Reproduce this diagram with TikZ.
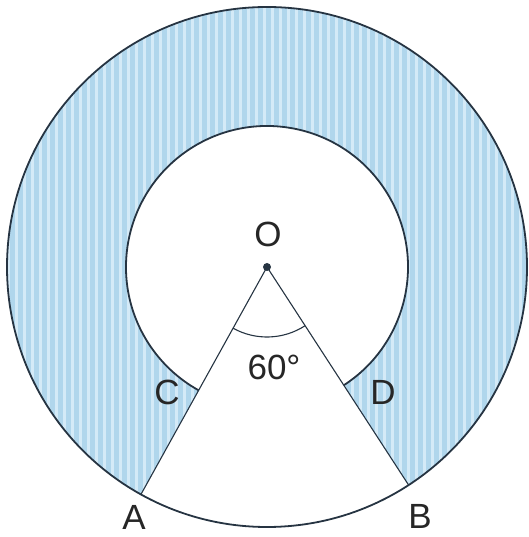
\documentclass[tikz,border=0pt]{standalone}
\usepackage{fontspec}
\setmainfont{Liberation Sans}
\usetikzlibrary{calc}
\definecolor{ringblue}{RGB}{176,214,236}
\definecolor{stripecol}{RGB}{212,234,247}
\definecolor{edgecol}{RGB}{38,52,66}
\begin{document}
\begin{tikzpicture}[x=1pt,y=1pt,
  lab/.style={font=\fontsize{35}{35}\selectfont, inner sep=0pt, text=black!85},
  rim/.style={draw=edgecol, line width=1.8pt},
  ray/.style={draw=edgecol, line width=1.1pt}]
\useasboundingbox (0,0) rectangle (528,537);
\coordinate (O) at (267,270);
\coordinate (A) at ($(O)+(241:260)$);
\coordinate (B) at ($(O)+(303:260)$);
\coordinate (C) at ($(O)+(241:141)$);
\coordinate (D) at ($(O)+(303:141)$);
% shaded ring part
\fill[ringblue] (B) arc[start angle=303,end angle=601,radius=260] -- (C)
  arc[start angle=601,end angle=303,radius=141] -- cycle;
\begin{scope}
  \clip (B) arc[start angle=303,end angle=601,radius=260] -- (C)
    arc[start angle=601,end angle=303,radius=141] -- cycle;
  \foreach \x in {0,8,...,528} \draw[stripecol, line width=3pt] (\x,0) -- (\x,537);
\end{scope}
% outlines
\draw[rim] (O) circle[radius=260];
\draw[rim] (D) arc[start angle=303,end angle=601,radius=141];
\draw[ray] (A) -- (O) -- (B);
\draw[ray] ($(O)+(241:70)$) arc[start angle=241,end angle=303,radius=70];
\fill[edgecol] (O) circle[radius=4];
% labels
\node[lab] (lO) at (268,303) {O};
\node[lab] (l60) at (274,170) {60°};
\node[lab] (lC) at (167,145) {C};
\node[lab] (lD) at (383,145) {D};
\node[lab] (lA) at (134,20) {A};
\node[lab] (lB) at (420,21) {B};
\end{tikzpicture}
\end{document}
